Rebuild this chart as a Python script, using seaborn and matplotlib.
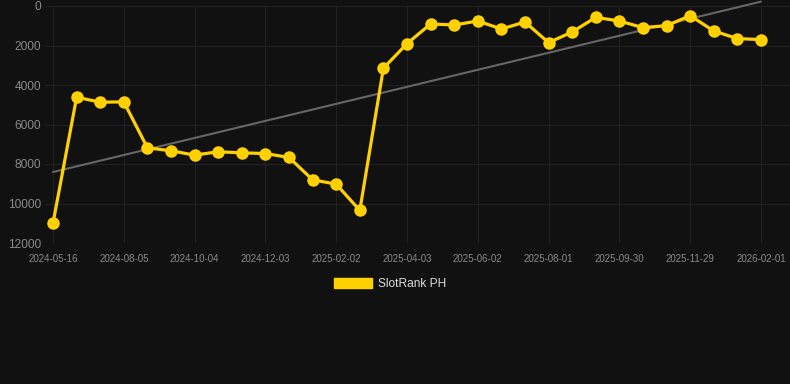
import numpy as np
import pandas as pd
import matplotlib
matplotlib.use('Agg')
import matplotlib.pyplot as plt
import seaborn as sns
from matplotlib.patches import Patch

dates = ['2024-05-16', '2024-06-12', '2024-07-09', '2024-08-05', '2024-08-25',
         '2024-09-14', '2024-10-04', '2024-10-24', '2024-11-13', '2024-12-03',
         '2024-12-23', '2025-01-13', '2025-02-02', '2025-02-22', '2025-03-14',
         '2025-04-03', '2025-04-23', '2025-05-13', '2025-06-02', '2025-06-22',
         '2025-07-12', '2025-08-01', '2025-08-21', '2025-09-10', '2025-09-30',
         '2025-10-20', '2025-11-09', '2025-11-29', '2025-12-20', '2026-01-11',
         '2026-02-01']
rank = [10990, 4620, 4870, 4855, 7180, 7330, 7550, 7380, 7435, 7470,
        7670, 8800, 9020, 10350, 3150, 1905, 910, 960, 760, 1165,
        810, 1855, 1315, 575, 760, 1095, 995, 490, 1265, 1650, 1700]

df = pd.DataFrame({'date': dates, 'rank': rank})
df['i'] = np.arange(len(df))

bg = '#111111'
yellow = '#FFD100'

sns.set_style('dark')
plt.rcParams['font.family'] = ['Liberation Sans', 'DejaVu Sans']

fig = plt.figure(figsize=(7.9, 3.84), dpi=100, facecolor=bg)
ax = fig.add_axes([45 / 790, 1 - 243 / 384, 745 / 790, 237 / 384])
ax.set_facecolor(bg)

# trend line (least squares)
k, b = np.polyfit(df['i'], df['rank'], 1)
ax.plot([df['i'].iloc[0], df['i'].iloc[-1]],
        [k * df['i'].iloc[0] + b, k * df['i'].iloc[-1] + b],
        color='#666666', lw=1.5, zorder=2, clip_on=False)

sns.lineplot(data=df, x='i', y='rank', ax=ax, color=yellow, lw=2.3,
             marker='o', markersize=9, markeredgewidth=0, zorder=3)

ax.set_ylim(12000, 0)
ax.set_yticks([0, 2000, 4000, 6000, 8000, 10000, 12000])
ax.set_xlim(-0.34, 31.23)
ticks = df['i'][::3]
ax.set_xticks(ticks)
ax.set_xticklabels(df['date'][::3])
ax.tick_params(axis='x', colors='#2a2a2a', labelcolor='#8a8a8a', labelsize=7,
               length=5, width=1, pad=3)
ax.tick_params(axis='y', labelcolor='#8a8a8a', labelsize=8.6, length=0, pad=3)
ax.grid(True, color='#222222', lw=0.8)
ax.set_xlabel('')
ax.set_ylabel('')
for s in ax.spines.values():
    s.set_visible(False)

fig.legend(handles=[Patch(facecolor=yellow, edgecolor=yellow)],
           labels=['SlotRank PH'], loc='center', bbox_to_anchor=(390 / 790, 1 - 284 / 384),
           frameon=False, fontsize=8.6, labelcolor='#dddddd',
           handlelength=3.2, handleheight=1.0, handletextpad=0.5)

fig.savefig('out.png', dpi=100, facecolor=bg)
